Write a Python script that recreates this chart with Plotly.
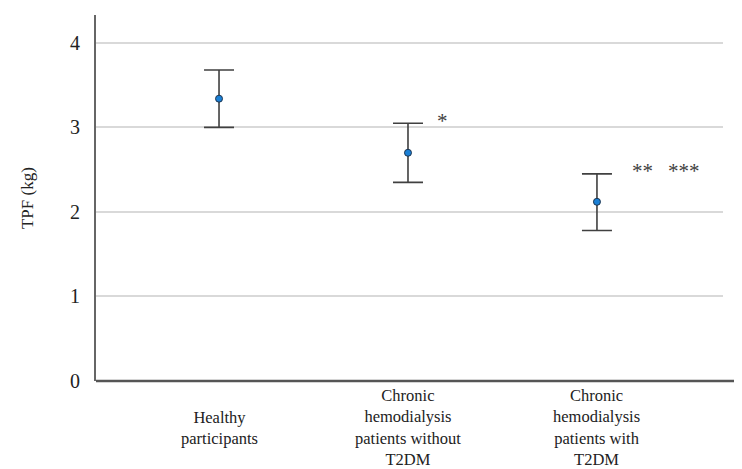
import plotly.graph_objects as go

categories = ["Healthy<br>participants",
              "Chronic<br>hemodialysis<br>patients without<br>T2DM",
              "Chronic<br>hemodialysis<br>patients with<br>T2DM"]
means = [3.34, 2.70, 2.12]
upper = [3.68, 3.05, 2.45]
lower = [3.00, 2.35, 1.78]
y_ticks = [0, 1, 2, 3, 4]
sig_labels = ["*", "**", "***"]
sig_x = [1.185, 2.243, 2.46]
sig_y = [3.08, 2.48, 2.48]

xs = list(range(len(categories)))
font_family = "Liberation Serif, DejaVu Serif, serif"

fig = go.Figure()
fig.add_trace(go.Scatter(
    x=xs, y=means, mode="markers",
    marker=dict(size=7, color="#1a80d6", line=dict(color="#1e3550", width=1)),
    error_y=dict(type="data", symmetric=False,
                 array=[u - m for u, m in zip(upper, means)],
                 arrayminus=[m - l for m, l in zip(means, lower)],
                 color="#404040", thickness=1.6, width=15),
    showlegend=False, cliponaxis=False,
))

for t, x, y in zip(sig_labels, sig_x, sig_y):
    fig.add_annotation(x=x, y=y, xref="x", yref="y", text=t, showarrow=False,
                       font=dict(family=font_family, size=21, color="#404040"),
                       xanchor="center", yanchor="middle")

for i, c in enumerate(categories):
    fig.add_annotation(x=i, y=-0.128, xref="x", yref="paper", text=c, showarrow=False,
                       font=dict(family=font_family, size=16.5, color="#222222"),
                       xanchor="center", yanchor="middle", align="center")

fig.add_annotation(x=-0.11, y=0.5, xref="paper", yref="paper", text="TPF (kg)",
                   showarrow=False, textangle=-90,
                   font=dict(family=font_family, size=17, color="#222222"),
                   xanchor="center", yanchor="middle")

# bottom axis line extending to page edge
fig.add_shape(type="line", xref="paper", yref="paper", x0=0, x1=1 + 19 / 627, y0=0, y1=0,
              line=dict(color="#555555", width=2.5), layer="above")

fig.update_layout(
    width=734, height=461,
    margin=dict(l=88, r=19, t=7, b=88),
    plot_bgcolor="white", paper_bgcolor="white",
    font=dict(family=font_family, color="#222222"),
    xaxis=dict(range=[-0.651, 2.667], showticklabels=False, showgrid=False,
               zeroline=False, showline=False, ticks=""),
    yaxis=dict(range=[0, 4.33], tickvals=y_ticks, ticktext=[str(v) for v in y_ticks],
               showgrid=True, gridcolor="#d9d9d9", gridwidth=1.5,
               zeroline=False, showline=True, linecolor="#666666", linewidth=2,
               ticks="", ticklabelstandoff=10,
               tickfont=dict(family=font_family, size=20, color="#222222")),
)

fig.write_html("out.html")
